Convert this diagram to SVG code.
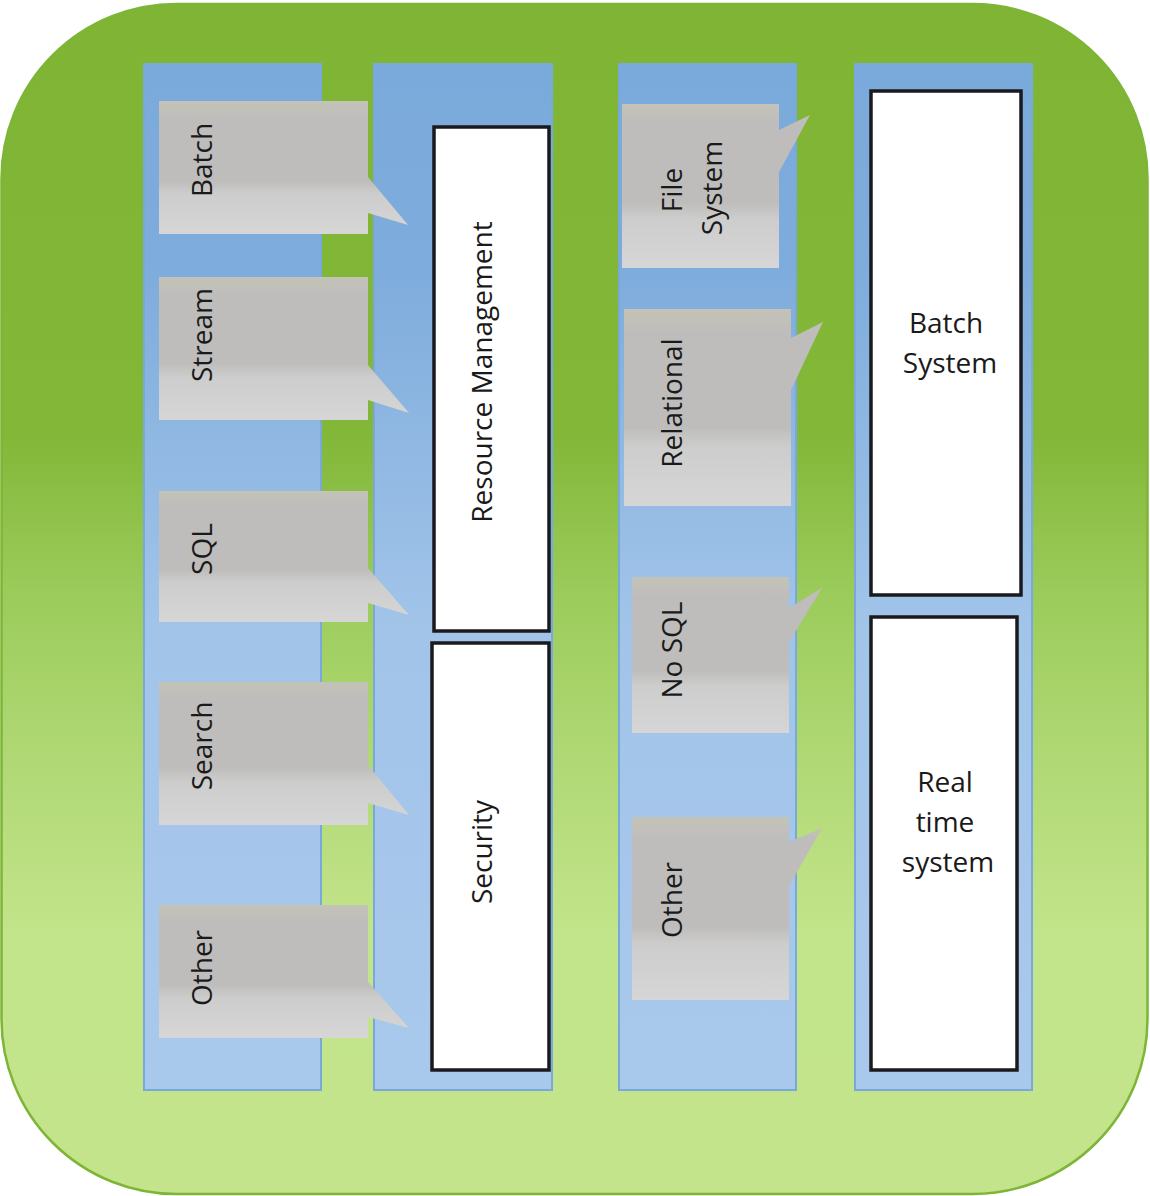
<svg xmlns="http://www.w3.org/2000/svg" width="1150" height="1196" viewBox="0 0 1150 1196">
<style>
.col{fill:url(#blue);stroke:#79a9da;stroke-width:2}
.call{fill:url(#gray)}
.box{fill:#ffffff;stroke:#1a1a1e;stroke-width:3.5}
.t{font-family:"Open Sans","Liberation Sans",sans-serif;font-size:28px;fill:#1a1a1a}
.m{text-anchor:middle}
</style>
<defs>
<linearGradient id="green" x1="0" y1="0" x2="0" y2="1">
<stop offset="0" stop-color="#7fb434"/>
<stop offset="0.36" stop-color="#82b738"/>
<stop offset="0.5" stop-color="#9ccc5c"/>
<stop offset="0.62" stop-color="#aed772"/>
<stop offset="0.78" stop-color="#c2e48a"/>
<stop offset="1" stop-color="#c3e48b"/>
</linearGradient>
<linearGradient id="blue" x1="0" y1="0" x2="0" y2="1">
<stop offset="0" stop-color="#7aaadb"/>
<stop offset="0.2" stop-color="#7eacdc"/>
<stop offset="0.55" stop-color="#a2c4e9"/>
<stop offset="1" stop-color="#a9c9ec"/>
</linearGradient>
<linearGradient id="gray" x1="0" y1="0" x2="0" y2="1">
<stop offset="0" stop-color="#c4c3b8"/>
<stop offset="0.12" stop-color="#bebdbb"/>
<stop offset="0.6" stop-color="#bebdbb"/>
<stop offset="0.7" stop-color="#cdcdcd"/>
<stop offset="1" stop-color="#d6d6d6"/>
</linearGradient>
</defs>
<rect id="background" x="1.5" y="4" width="1146" height="1190" rx="175" ry="175" fill="url(#green)" stroke="#7db536" stroke-width="2.5"/>
<g id="columns">
<rect id="col-processing" class="col" x="144" y="64" width="177" height="1026"/>
<rect id="col-platform" class="col" x="374" y="64" width="178" height="1026"/>
<rect id="col-storage" class="col" x="619" y="64" width="177" height="1026"/>
<rect id="col-systems" class="col" x="855" y="64" width="177" height="1026"/>
</g>
<g id="connectors"/>
<g id="node-batch">
<path class="call" d="M159,101 H368 V177 L408,225 L368,213 V234 H159 Z"/>
<text class="t m" transform="translate(212,160) rotate(-90)">Batch</text>
</g>
<g id="node-stream">
<path class="call" d="M159,277 H368 V365 L409,413 L368,400 V420 H159 Z"/>
<text class="t m" transform="translate(212,335) rotate(-90)">Stream</text>
</g>
<g id="node-sql">
<path class="call" d="M159,491 H368 V568 L409,615 L368,603 V622 H159 Z"/>
<text class="t m" transform="translate(212,549) rotate(-90)">SQL</text>
</g>
<g id="node-search">
<path class="call" d="M159,682 H368 V765 L409,815 L368,803 V825 H159 Z"/>
<text class="t m" transform="translate(212,746) rotate(-90)">Search</text>
</g>
<g id="node-other-left">
<path class="call" d="M159,905 H368 V982 L409,1028 L368,1017 V1038 H159 Z"/>
<text class="t m" transform="translate(212,968) rotate(-90)">Other</text>
</g>
<g id="node-resource-management">
<rect class="box" x="434" y="127" width="115" height="504"/>
<text class="t m" transform="translate(492,372) rotate(-90)">Resource Management</text>
</g>
<g id="node-security">
<rect class="box" x="432" y="643" width="117" height="427"/>
<text class="t m" transform="translate(492,852) rotate(-90)">Security</text>
</g>
<g id="node-file-system">
<path class="call" d="M622,104 H779 V130 L810,115 L779,172 V268 H622 Z"/>
<text class="t m" transform="translate(682,190) rotate(-90)">File</text>
<text class="t m" transform="translate(722,188) rotate(-90)">System</text>
</g>
<g id="node-relational">
<path class="call" d="M624,309 H791 V338 L823,322 L791,390 V506 H624 Z"/>
<text class="t m" transform="translate(682,403) rotate(-90)">Relational</text>
</g>
<g id="node-nosql">
<path class="call" d="M632,577 H789 V608 L822,588 L789,642 V733 H632 Z"/>
<text class="t m" transform="translate(682,650) rotate(-90)">No SQL</text>
</g>
<g id="node-other-right">
<path class="call" d="M632,817 H789 V842 L822,828 L789,886 V1000 H632 Z"/>
<text class="t m" transform="translate(682,900) rotate(-90)">Other</text>
</g>
<g id="node-batch-system">
<rect class="box" x="871" y="91" width="150" height="504"/>
<text class="t m" x="946" y="333">Batch</text>
<text class="t m" x="950" y="373">System</text>
</g>
<g id="node-real-time-system">
<rect class="box" x="871" y="617" width="146" height="453"/>
<text class="t m" x="945" y="792">Real</text>
<text class="t m" x="945" y="832">time</text>
<text class="t m" x="948" y="872">system</text>
</g>
</svg>
